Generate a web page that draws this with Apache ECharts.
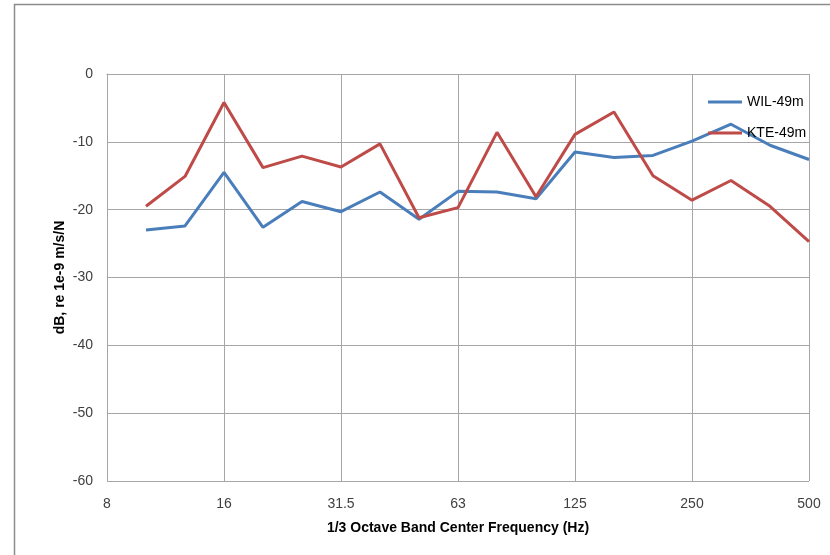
<!DOCTYPE html>
<html>
<head>
<meta charset="utf-8">
<script src="https://cdn.jsdelivr.net/npm/echarts@6/dist/echarts.min.js"></script>
<style>
  html, body { margin: 0; padding: 0; background: #fff; }
  #chart { width: 830px; height: 555px; }
</style>
</head>
<body>
<div id="chart"></div>
<script>
// 1/3 octave band center frequencies (Hz)
const bands = ['8', '10', '12.5', '16', '20', '25', '31.5', '40', '50', '63', '80', '100', '125', '160', '200', '250', '315', '400', '500'];

// Mobility levels, dB re 1e-9 m/s/N (no value at 8 Hz)
const wil49 = [null, -23.0, -22.4, -14.5, -22.6, -18.8, -20.3, -17.4, -21.4, -17.3, -17.4, -18.4, -11.5, -12.3, -12.0, -9.9, -7.4, -10.5, -12.6];
const kte49 = [null, -19.5, -15.1, -4.2, -13.8, -12.1, -13.7, -10.3, -21.2, -19.7, -8.6, -18.1, -8.9, -5.6, -15.0, -18.6, -15.7, -19.5, -24.7];

const seriesNames = ['WIL-49m', 'KTE-49m'];

const font = '"Liberation Sans", "DejaVu Sans", sans-serif';
const gridColor = '#a6a6a6';

const chart = echarts.init(document.getElementById('chart'), null, { renderer: 'canvas' });

chart.setOption({
  backgroundColor: '#ffffff',
  animation: false,
  graphic: [{
    type: 'rect',
    shape: { x: 14.5, y: 4.5, width: 900, height: 700 },
    style: { fill: 'none', stroke: '#8c8c8c', lineWidth: 1.5 },
    silent: true
  }],
  grid: { left: 107, right: 21, top: 74, bottom: 74, containLabel: false },
  legend: {
    orient: 'vertical',
    left: 703,
    top: 90,
    itemWidth: 34,
    itemHeight: 14,
    itemGap: 17,
    icon: 'path://M0,6 L34,6 L34,9 L0,9 Z',
    textStyle: { fontFamily: font, fontSize: 14, color: '#000' },
    data: seriesNames
  },
  xAxis: {
    type: 'category',
    data: bands,
    boundaryGap: false,
    name: '1/3 Octave Band Center Frequency (Hz)',
    nameLocation: 'middle',
    nameGap: 40,
    nameMoveOverlap: false,
    nameTextStyle: { fontFamily: font, fontSize: 14, fontWeight: 'bold', color: '#000' },
    axisLine: { lineStyle: { color: gridColor, width: 1 } },
    axisTick: { show: false },
    axisLabel: { interval: 2, margin: 16, fontFamily: font, fontSize: 14, color: '#404040' },
    splitLine: { show: true, interval: 2, lineStyle: { color: gridColor, width: 1 } }
  },
  yAxis: {
    type: 'value',
    min: -60,
    max: 0,
    interval: 10,
    name: 'dB, re 1e-9 m/s/N',
    nameLocation: 'middle',
    nameGap: 40,
    nameMoveOverlap: false,
    nameTextStyle: { fontFamily: font, fontSize: 14, fontWeight: 'bold', color: '#000' },
    axisLine: { show: true, lineStyle: { color: gridColor, width: 1 } },
    axisTick: { show: false },
    axisLabel: { margin: 14, fontFamily: font, fontSize: 14, color: '#404040' },
    splitLine: { show: true, lineStyle: { color: gridColor, width: 1 } }
  },
  series: [
    {
      name: seriesNames[0],
      type: 'line',
      data: wil49,
      symbol: 'none',
      color: '#4a7ebb',
      lineStyle: { width: 3, color: '#4a7ebb' },
      connectNulls: false
    },
    {
      name: seriesNames[1],
      type: 'line',
      data: kte49,
      symbol: 'none',
      color: '#be4b48',
      lineStyle: { width: 3, color: '#be4b48' },
      connectNulls: false
    }
  ]
});
</script>
</body>
</html>
